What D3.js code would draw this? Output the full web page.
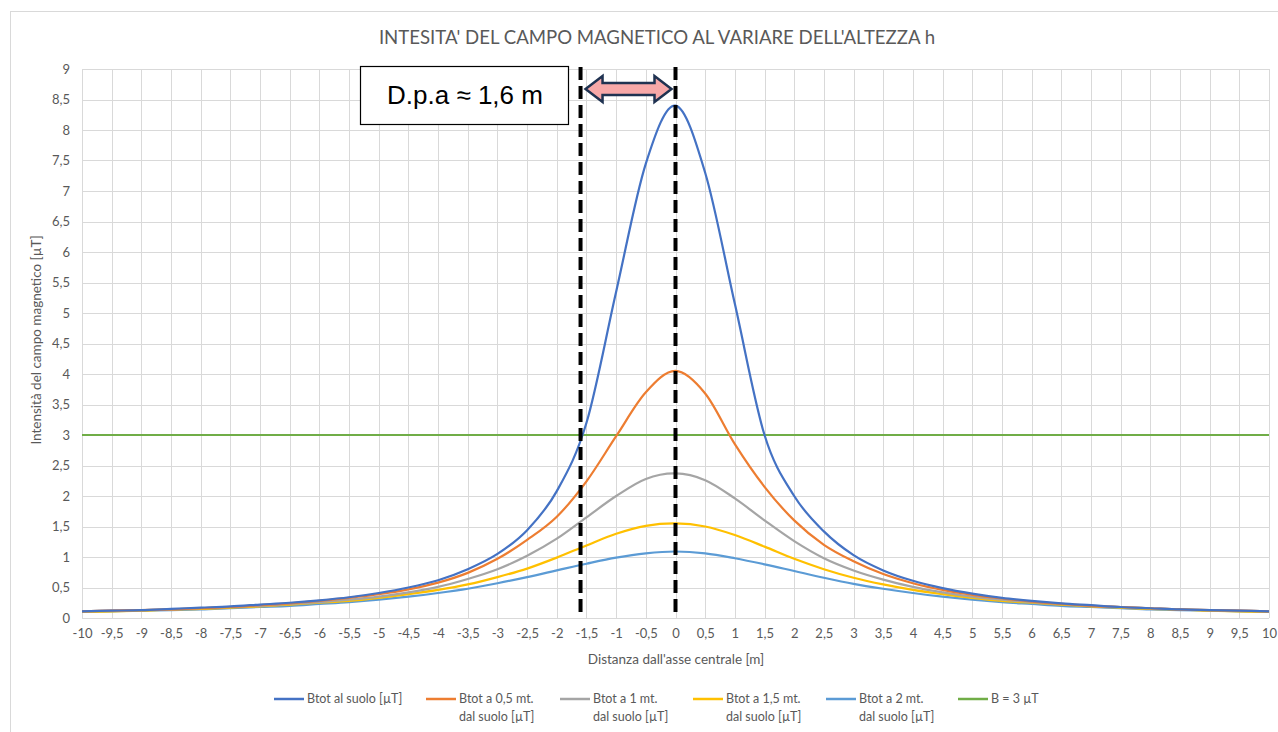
<!DOCTYPE html>
<html>
<head>
<meta charset="utf-8">
<script src="https://cdn.jsdelivr.net/npm/d3@7"></script>
<style>
  body { margin: 0; background: #fff; }
  text { font-family: Lato, "Open Sans", sans-serif; fill: #595959; }
</style>
</head>
<body>
<svg id="chart" width="1278" height="732"></svg>
<script>
// distance from central axis [m], one point every 0.5 m
const distances = d3.range(-10, 10.001, 0.5).map(d => +d.toFixed(1));

const bSuolo = [0.11, 0.12, 0.13, 0.15, 0.17, 0.19, 0.22, 0.25, 0.29, 0.34, 0.41, 0.50, 0.62, 0.80, 1.05, 1.44, 2.08, 3.2, 5.35, 7.45, 8.4,
  7.3, 5.15, 3.0, 2.0, 1.42, 1.03, 0.78, 0.61, 0.49, 0.40, 0.33, 0.28, 0.24, 0.21, 0.18, 0.16, 0.14, 0.13, 0.12, 0.11];
const b05 = [0.11, 0.12, 0.13, 0.14, 0.16, 0.18, 0.21, 0.24, 0.28, 0.33, 0.39, 0.47, 0.58, 0.74, 0.97, 1.28, 1.66, 2.24, 2.98, 3.7, 4.05,
  3.68, 2.85, 2.15, 1.6, 1.2, 0.93, 0.72, 0.57, 0.46, 0.38, 0.32, 0.27, 0.23, 0.2, 0.18, 0.16, 0.14, 0.13, 0.12, 0.11];
const b1 = [0.11, 0.12, 0.13, 0.14, 0.16, 0.18, 0.2, 0.23, 0.26, 0.3, 0.35, 0.42, 0.51, 0.64, 0.8, 1.02, 1.3, 1.65, 2.0, 2.28, 2.37,
  2.26, 1.96, 1.6, 1.26, 0.98, 0.78, 0.63, 0.51, 0.42, 0.35, 0.3, 0.26, 0.23, 0.2, 0.18, 0.16, 0.14, 0.13, 0.12, 0.11];
const b15 = [0.1, 0.11, 0.12, 0.14, 0.15, 0.17, 0.19, 0.22, 0.25, 0.28, 0.33, 0.39, 0.46, 0.55, 0.67, 0.81, 0.99, 1.19, 1.38, 1.51, 1.55,
  1.5, 1.36, 1.17, 0.97, 0.8, 0.66, 0.55, 0.46, 0.39, 0.33, 0.28, 0.25, 0.22, 0.19, 0.17, 0.15, 0.14, 0.12, 0.11, 0.1];
const b2 = [0.1, 0.11, 0.12, 0.13, 0.14, 0.16, 0.18, 0.2, 0.23, 0.26, 0.3, 0.35, 0.41, 0.48, 0.57, 0.67, 0.78, 0.89, 0.99, 1.06, 1.09,
  1.06, 0.98, 0.88, 0.77, 0.66, 0.56, 0.48, 0.41, 0.35, 0.3, 0.26, 0.23, 0.2, 0.18, 0.16, 0.14, 0.13, 0.12, 0.11, 0.1];
const bLimit = distances.map(() => 3);

const seriesNames = [["Btot al suolo [\u00b5T]"], ["Btot a 0,5 mt.", "dal suolo [\u00b5T]"], ["Btot a 1 mt.", "dal suolo [\u00b5T]"],
  ["Btot a 1,5 mt.", "dal suolo [\u00b5T]"], ["Btot a 2 mt.", "dal suolo [\u00b5T]"], ["B = 3 \u00b5T"]];
const seriesValues = [bSuolo, b05, b1, b15, b2, bLimit];
const seriesColors = ["#4472C4", "#ED7D31", "#A5A5A5", "#FFC000", "#5B9BD5", "#70AD47"];

const xTicks = d3.range(-10, 10.001, 0.5).map(d => +d.toFixed(1));
const yTicks = d3.range(0, 9.001, 0.5).map(d => +d.toFixed(1));
const dpaLeft = -1.6, dpaRight = 0;

const svg = d3.select("#chart");
const x = d3.scaleLinear().domain([-10, 10]).range([82, 1269]);
const y = d3.scaleLinear().domain([0, 9]).range([618, 69]);
const fmt = v => String(v).replace(".", ",");

// outer chart border
svg.append("rect").attr("x", 10.5).attr("y", 11.5).attr("width", 1300).attr("height", 800)
  .attr("fill", "none").attr("stroke", "#d9d9d9");

// grid
svg.append("g").selectAll("line").data(yTicks).join("line")
  .attr("x1", x(-10)).attr("x2", x(10)).attr("y1", d => Math.round(y(d)) + 0.5).attr("y2", d => Math.round(y(d)) + 0.5)
  .attr("stroke", "#d9d9d9");
svg.append("g").selectAll("line").data(xTicks).join("line")
  .attr("y1", y(0)).attr("y2", y(9)).attr("x1", d => Math.round(x(d)) + 0.5).attr("x2", d => Math.round(x(d)) + 0.5)
  .attr("stroke", "#d9d9d9");

// axes
const xAxis = svg.append("g").attr("transform", `translate(0,${y(0)})`)
  .call(d3.axisBottom(x).tickValues(xTicks).tickFormat(fmt).tickSize(0).tickPadding(11));
const yAxis = svg.append("g").attr("transform", `translate(${x(-10)},0)`)
  .call(d3.axisLeft(y).tickValues(yTicks).tickFormat(fmt).tickSize(0).tickPadding(12));
[xAxis, yAxis].forEach(a => {
  a.select(".domain").remove();
  a.selectAll("text").attr("font-size", 13).attr("fill", "#595959").style("font-family", "Lato, sans-serif");
});

// title and axis titles
svg.append("text").attr("x", 657).attr("y", 44).attr("text-anchor", "middle").attr("font-size", 18.6)
  .text("INTESITA' DEL CAMPO MAGNETICO AL VARIARE DELL'ALTEZZA h");
svg.append("text").attr("x", 676).attr("y", 664).attr("text-anchor", "middle").attr("font-size", 13.5)
  .text("Distanza dall'asse centrale [m]");
svg.append("text").attr("transform", "translate(41,340) rotate(-90)").attr("text-anchor", "middle").attr("font-size", 13.5)
  .text("Intensit\u00e0 del campo magnetico [\u00b5T]");

// series (uniform Catmull-Rom, like the spreadsheet's smoothed lines)
const line = d3.line().x((d, i) => x(distances[i])).y(d => y(d)).curve(d3.curveCardinal.tension(0));
svg.append("g").selectAll("path").data(seriesValues.slice().reverse()).join("path")
  .attr("d", line).attr("fill", "none")
  .attr("stroke", (d, i) => seriesColors[seriesValues.length - 1 - i]).attr("stroke-width", 2.2);

// dashed D.p.a markers
svg.append("g").selectAll("line").data([dpaLeft, dpaRight]).join("line")
  .attr("x1", d => x(d)).attr("x2", d => x(d)).attr("y1", 67).attr("y2", y(0))
  .attr("stroke", "#000").attr("stroke-width", 4).attr("stroke-dasharray", "13,6");

// double arrow
const ax0 = x(dpaLeft) + 5, ax1 = x(dpaRight) - 4, ay = 89, hh = 13, sh = 6, hl = 17;
svg.append("path")
  .attr("d", `M${ax0},${ay} L${ax0 + hl},${ay - hh} L${ax0 + hl},${ay - sh} L${ax1 - hl},${ay - sh} L${ax1 - hl},${ay - hh}
    L${ax1},${ay} L${ax1 - hl},${ay + hh} L${ax1 - hl},${ay + sh} L${ax0 + hl},${ay + sh} L${ax0 + hl},${ay + hh} Z`)
  .attr("fill", "#f7a8a8").attr("stroke", "#1f3251").attr("stroke-width", 2.5).attr("stroke-linejoin", "miter");

// annotation box
svg.append("rect").attr("x", 360.5).attr("y", 66.5).attr("width", 208).attr("height", 58)
  .attr("fill", "#fff").attr("stroke", "#000").attr("stroke-width", 1.2);
svg.append("text").attr("x", 465).attr("y", 104).attr("text-anchor", "middle").attr("font-size", 26)
  .style("font-family", "Liberation Sans, Arial, sans-serif").style("fill", "#000")
  .text("D.p.a \u2248 1,6 m");

// legend
const legendX = [274, 426, 560, 693, 826, 958];
const leg = svg.append("g").selectAll("g").data(seriesNames).join("g")
  .attr("transform", (d, i) => `translate(${legendX[i]},699)`);
leg.append("line").attr("x1", 0).attr("x2", 30).attr("stroke", (d, i) => seriesColors[i]).attr("stroke-width", 2.5);
leg.append("text").attr("x", 33).attr("font-size", 12.5).selectAll("tspan").data(d => d).join("tspan")
  .attr("x", 33).attr("y", (d, i) => 4 + i * 18).text(d => d);
</script>
</body>
</html>
